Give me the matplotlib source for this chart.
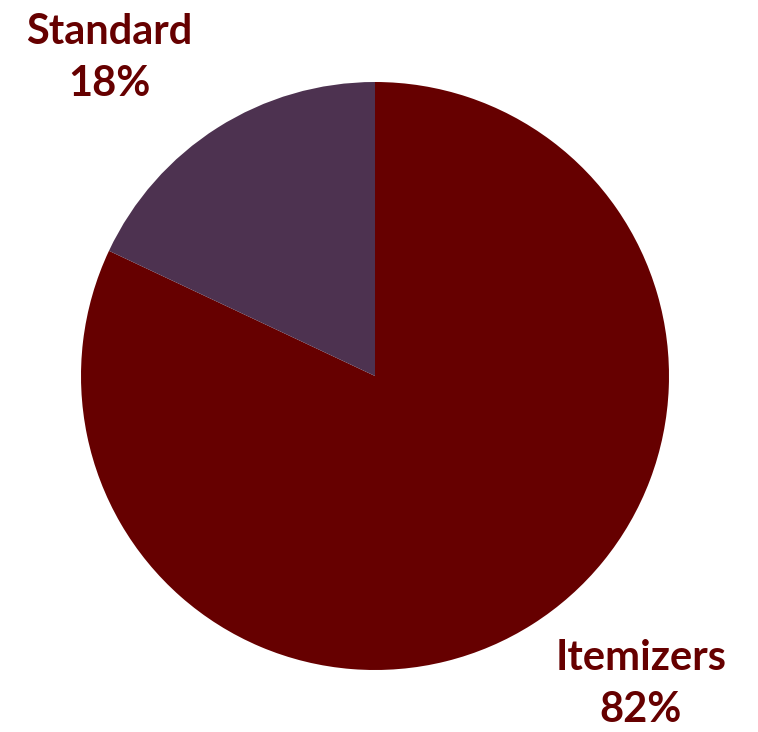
import matplotlib
matplotlib.use("Agg")
import matplotlib.pyplot as plt

categories = ["Itemizers", "Standard"]
values = [82, 18]
colors = ["#660000", "#4D3250"]

W, H = 758, 732
cx, cy, r = 375, 376, 294

fig = plt.figure(figsize=(W / 100, H / 100), dpi=100)
ax = fig.add_axes([0, 0, 1, 1])
ax.pie(values, colors=colors, startangle=90, counterclock=False, radius=1,
       wedgeprops=dict(linewidth=0))
ax.set_xlim(-cx / r, (W - cx) / r)
ax.set_ylim(-(H - cy) / r, cy / r)
ax.set_aspect("equal")
ax.axis("off")

label_pos = {"Standard": ((109 - cx) / r, (cy - 58) / r),
             "Itemizers": ((641 - cx) / r, (cy - 684) / r)}
for cat, val in zip(categories, values):
    x, y = label_pos[cat]
    ax.text(x, y, f"{cat}\n{val}%", ha="center", va="center", fontsize=30,
            fontweight="bold", color="#660000", family="Lato", linespacing=1.45)

fig.savefig("out.png", dpi=100)
